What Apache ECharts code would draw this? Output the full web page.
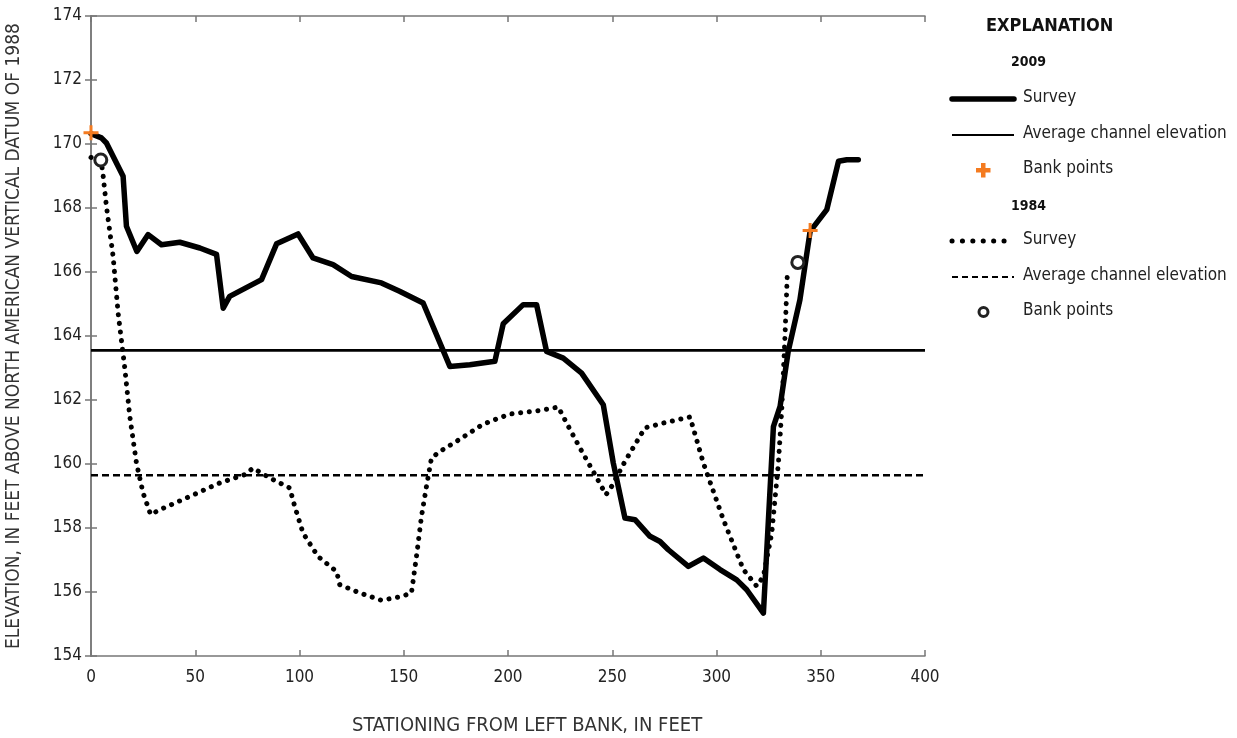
<!DOCTYPE html>
<html lang="en">
<head>
    <meta charset="UTF-8">
    <title>Cross section</title>
    <script src="https://cdn.jsdelivr.net/npm/echarts@6/dist/echarts.min.js"></script>
    <style>
        html, body { margin: 0; padding: 0; background: #fff; }
        #main { width: 1237px; height: 738px; }
    </style>
</head>
<body>
    <div id="main"></div>
</body>
</html>
<script type="text/javascript">
    // 2009 survey
    var survey2009X = [0, 5, 7.4, 15.4, 17, 22, 27.4, 33.8, 42.6, 52.2, 60.2, 63.4, 66.5, 81.8, 89, 99.3, 106.5, 116.1, 125, 139.3, 148, 159.3,
        172.1, 181.7, 193.7, 197.7, 207.3, 213.7, 218.5, 226.5, 235.3, 245.7, 250.5, 256.1, 260.9, 268.1, 272.9, 276.9, 286.5, 293.7,
        301.7, 309.7, 314.5, 322.5, 327.3, 330.5, 334.4, 340, 344.9, 352.9, 358.5, 362.5, 368];
    var survey2009Y = [170.32, 170.19, 170.03, 168.99, 167.43, 166.64, 167.17, 166.85, 166.93, 166.75, 166.55, 164.87, 165.24, 165.76, 166.88, 167.19, 166.44, 166.23, 165.86, 165.66, 165.4, 165.03,
        163.05, 163.1, 163.21, 164.38, 164.98, 164.98, 163.52, 163.31, 162.84, 161.85, 160.03, 158.31, 158.26, 157.74, 157.58, 157.32, 156.8, 157.06,
        156.7, 156.38, 156.07, 155.34, 161.17, 161.8, 163.52, 165.13, 167.27, 167.95, 169.46, 169.51, 169.51];
    var avg2009 = 163.55;
    var bank2009X = [0, 344.9];
    var bank2009Y = [170.35, 167.3];

    // 1984 survey
    var survey1984X = [0, 4.5, 5.5, 7.4, 10.6, 13, 16.2, 18.6, 21.8, 25, 28.6, 33, 45.8, 61.8, 73.8, 77.7, 85.8, 95.3, 97.7, 101.7, 108.9, 117.8, 119.3,
        128.9, 139.3, 149, 153.7, 156.1, 158.5, 160.9, 163.3, 167.3, 175.3, 186.5, 191.3, 200.9, 215.3, 224.1, 228.1, 234.5, 241.7, 247, 249.7,
        256.1, 265.7, 274.5, 287.3, 293.7, 303.3, 312.9, 319.3, 322.5, 326.5, 329.7, 331.3, 332.9, 334];
    var survey1984Y = [169.58, 169.49, 169.2, 168.05, 166.49, 164.72, 163.0, 161.49, 160.03, 159.09, 158.42, 158.57, 158.94, 159.41, 159.67, 159.87, 159.56, 159.25, 158.68, 157.84, 157.11, 156.64, 156.23,
        155.97, 155.74, 155.86, 155.97, 157.11, 158.36, 159.3, 160.19, 160.39, 160.71, 161.18, 161.33, 161.56, 161.67, 161.78, 161.28, 160.5, 159.67, 159.04, 159.3,
        160.08, 161.13, 161.28, 161.47, 160.03, 158.26, 156.7, 156.18, 156.49, 157.84, 160.03, 161.7, 164.09, 166.0];
    var avg1984 = 159.65;
    var bank1984X = [4.7, 339];
    var bank1984Y = [169.5, 166.3];

    var xMin = 0, xMax = 400, xStep = 50;
    var yMin = 154, yMax = 174, yStep = 2;

    function pairs(xs, ys) {
        return xs.map(function (x, i) { return [x, ys[i]]; });
    }

    var FONT = '"DejaVu Sans Condensed", "Liberation Sans", sans-serif';
    var ORANGE = '#f47b20';
    var plusPath = 'path://M4,0H6V4H10V6H6V10H4V6H0V4H4Z';

    var myChart = echarts.init(document.getElementById('main'));

    var frameLine = { show: true, lineStyle: { color: '#777', width: 1.5 } };
    var innerTick = { show: true, inside: true, length: 6, lineStyle: { color: '#777', width: 1.5 } };

    // legend drawn by hand (headings + samples)
    var LX = 952, LX2 = 1014, TX = 1023;
    function legendText(y, txt) {
        return { type: 'text', left: TX, top: y - 10, style: { text: txt, font: '17px ' + FONT, fill: '#222' } };
    }
    var legend = [
        { type: 'text', left: 986, top: 17, style: { text: 'EXPLANATION', font: 'bold 18px ' + FONT, fill: '#111' } },
        { type: 'text', left: 1011, top: 55, style: { text: '2009', font: 'bold 14px ' + FONT, fill: '#111' } },
        { type: 'line', shape: { x1: LX, y1: 99, x2: LX2, y2: 99 }, style: { stroke: '#000', lineWidth: 5.5, lineCap: 'round' } },
        legendText(99, 'Survey'),
        { type: 'line', shape: { x1: LX, y1: 135, x2: LX2, y2: 135 }, style: { stroke: '#000', lineWidth: 2 } },
        legendText(135, 'Average channel elevation'),
        { type: 'polygon', shape: { points: [[981, 163], [985.5, 163], [985.5, 168], [990.5, 168], [990.5, 172.5], [985.5, 172.5], [985.5, 177.5], [981, 177.5], [981, 172.5], [976, 172.5], [976, 168], [981, 168]] }, style: { fill: ORANGE } },
        legendText(170, 'Bank points'),
        { type: 'text', left: 1011, top: 199, style: { text: '1984', font: 'bold 14px ' + FONT, fill: '#111' } },
        { type: 'line', shape: { x1: LX, y1: 241, x2: LX2, y2: 241 }, style: { stroke: '#000', lineWidth: 5, lineCap: 'round', lineDash: [0.1, 10.3] } },
        legendText(241, 'Survey'),
        { type: 'line', shape: { x1: LX, y1: 277, x2: LX2, y2: 277 }, style: { stroke: '#000', lineWidth: 2.2, lineDash: [6, 4] } },
        legendText(277, 'Average channel elevation'),
        { type: 'circle', shape: { cx: 983.5, cy: 312, r: 4.5 }, style: { fill: '#fff', stroke: '#222', lineWidth: 3 } },
        legendText(312, 'Bank points'),
        { type: 'text', left: 352, top: 716, style: { text: 'STATIONING FROM LEFT BANK, IN FEET', font: '20px ' + FONT, fill: '#333' } }
    ];

    var option = {
        backgroundColor: '#fff',
        animation: false,
        grid: { left: 91, top: 16, width: 834, height: 640, containLabel: false, outerBoundsMode: 'none' },
        xAxis: [
            {
                type: 'value', min: xMin, max: xMax, interval: xStep, position: 'bottom',
                axisLine: frameLine, axisTick: innerTick, splitLine: { show: false },
                axisLabel: { margin: 13, fontFamily: FONT, fontSize: 17, color: '#222' }
            },
            {
                type: 'value', min: xMin, max: xMax, interval: xStep, position: 'top',
                axisLine: frameLine, axisTick: innerTick, splitLine: { show: false }, axisLabel: { show: false }
            }
        ],
        yAxis: [
            {
                type: 'value', min: yMin, max: yMax, interval: yStep, position: 'left',
                axisLine: frameLine, axisTick: innerTick, splitLine: { show: false },
                axisLabel: { margin: 9, fontFamily: FONT, fontSize: 17, color: '#222' },
                name: 'ELEVATION, IN FEET ABOVE NORTH AMERICAN VERTICAL DATUM OF 1988',
                nameLocation: 'middle', nameGap: 67, nameRotate: 90, nameMoveOverlap: false,
                nameTextStyle: { fontFamily: FONT, fontSize: 19, color: '#333' }
            },
            {
                type: 'value', min: yMin, max: yMax, interval: yStep, position: 'right',
                axisLine: frameLine, axisTick: innerTick, splitLine: { show: false }, axisLabel: { show: false }
            }
        ],
        graphic: legend,
        series: [
            {
                name: '2009 average', type: 'line', symbol: 'none', silent: true,
                data: [[xMin, avg2009], [xMax, avg2009]],
                lineStyle: { color: '#000', width: 2.6 }
            },
            {
                name: '1984 average', type: 'line', symbol: 'none', silent: true,
                data: [[xMin, avg1984], [xMax, avg1984]],
                lineStyle: { color: '#000', width: 2.4, type: [7, 4] }
            },
            {
                name: '1984 survey', type: 'line', symbol: 'none',
                data: pairs(survey1984X, survey1984Y),
                lineStyle: { color: '#000', width: 5, type: [0.1, 8.6], cap: 'round', join: 'round' }
            },
            {
                name: '2009 survey', type: 'line', symbol: 'none',
                data: pairs(survey2009X, survey2009Y),
                lineStyle: { color: '#000', width: 5.5, cap: 'round', join: 'round' }
            },
            {
                name: '1984 bank points', type: 'scatter', symbol: 'circle', symbolSize: 12,
                data: pairs(bank1984X, bank1984Y),
                itemStyle: { color: '#fff', borderColor: '#222', borderWidth: 3, opacity: 1 },
                z: 5
            },
            {
                name: '2009 bank points', type: 'scatter', symbol: plusPath, symbolSize: 15,
                data: pairs(bank2009X, bank2009Y),
                itemStyle: { color: ORANGE, opacity: 1 },
                z: 6
            }
        ]
    };

    myChart.setOption(option);
</script>
